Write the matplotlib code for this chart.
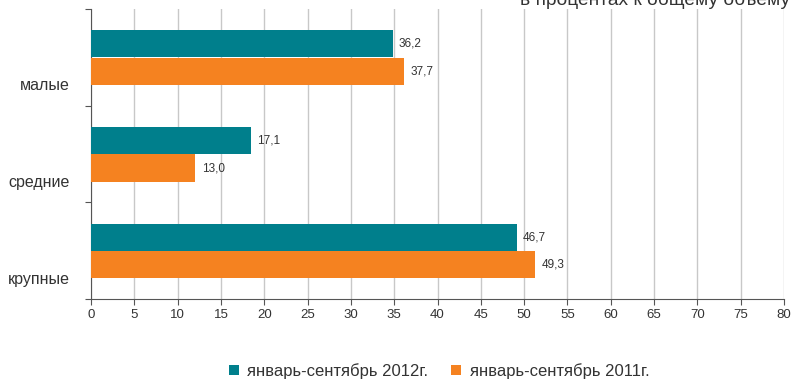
import numpy as np
import matplotlib.pyplot as plt

plt.rcParams['font.family'] = ['Liberation Sans', 'DejaVu Sans']

# данные
categories = ['малые', 'средние', 'крупные']
series_names = ['январь-сентябрь 2012г.', 'январь-сентябрь 2011г.']
# длины столбцов, как они нарисованы на исходном рисунке
bars_2012 = [34.9, 18.5, 49.2]
bars_2011 = [36.1, 12.0, 51.2]
# подписи значений
labels_2012 = ['36,2', '17,1', '46,7']
labels_2011 = ['37,7', '13,0', '49,3']

teal = '#007f8c'
orange = '#f58220'
txt = '#333333'

fig = plt.figure(figsize=(7.91, 3.8), dpi=100)
ax = fig.add_axes([91 / 791, 81 / 380, 693 / 791, 290 / 380])

y = np.arange(len(categories))
h = 0.28
b1 = ax.barh(y - 0.14, bars_2012, height=h, color=teal, label=series_names[0], zorder=3)
b2 = ax.barh(y + 0.145, bars_2011, height=h, color=orange, label=series_names[1], zorder=3)

for rect, lab in zip(b1, labels_2012):
    ax.annotate(lab, (rect.get_width(), rect.get_y() + rect.get_height() / 2),
                xytext=(4, 0), textcoords='offset points', va='center',
                fontsize=8.5, color=txt)
for rect, lab in zip(b2, labels_2011):
    ax.annotate(lab, (rect.get_width(), rect.get_y() + rect.get_height() / 2),
                xytext=(5, 0), textcoords='offset points', va='center',
                fontsize=8.5, color=txt)

ax.set_xlim(0, 80)
ax.set_ylim(2.5, -0.5)
ax.set_xticks(np.arange(0, 81, 5))
ax.tick_params(axis='x', labelsize=9.5, colors=txt, length=4, color='#555555')

# деления на границах категорий, подписи чуть ниже центра
ax.set_yticks([-0.5, 0.5, 1.5, 2.5])
ax.set_yticklabels([])
ax.set_yticks(y + 0.28, minor=True)
ax.set_yticklabels(categories, minor=True, fontsize=11.5, color=txt)
ax.tick_params(axis='y', which='major', length=4, color='#555555')
ax.tick_params(axis='y', which='minor', length=0, pad=15)

ax.grid(axis='x', color='#c8c8c8', linewidth=1, zorder=0)
for s in ['top', 'right']:
    ax.spines[s].set_visible(False)
for s in ['left', 'bottom']:
    ax.spines[s].set_color('#555555')

fig.text(790 / 791, 1 - 5 / 380, 'в процентах к общему объему', ha='right',
         va='baseline', fontsize=13.8, color=txt)

fig.legend(handles=[b1, b2], loc='center', bbox_to_anchor=(0.555, 0.024),
           ncol=2, frameon=False, fontsize=12, handlelength=0.6, handleheight=0.6,
           columnspacing=1.4, handletextpad=0.5, labelcolor=txt)

fig.savefig('out.png', dpi=100)
